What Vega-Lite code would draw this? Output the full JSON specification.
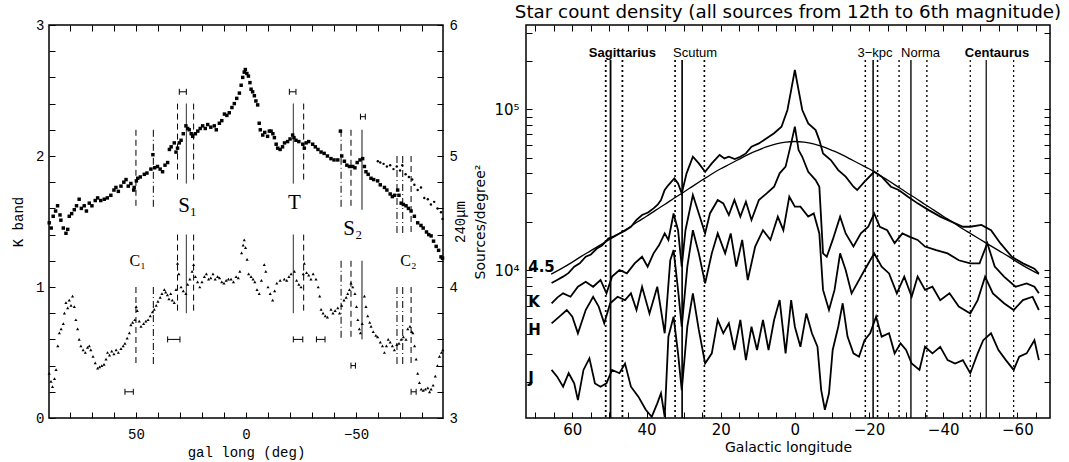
{
"$schema": "https://vega.github.io/schema/vega-lite/v6.json",
"background": "white",
"padding": {"left": 10, "top": 2, "right": 0, "bottom": 0},
"bounds": "flush",
"spacing": 83,
"resolve": {"scale": {"strokeDash": "independent", "strokeWidth": "independent"}},
"config": {
  "view": {"stroke": "black", "strokeWidth": 1.5},
  "axis": {"domain": false, "grid": false, "zindex": 1, "tickColor": "black", "tickWidth": 1, "tickSize": 6, "offset": -6, "labelColor": "black", "titleColor": "black", "titleFontWeight": "normal", "labelFontWeight": "normal", "labelFlush": false, "labelBound": false}
},
"datasets": {
  "kband": [
    {"l":89.4,"v":1.49},{"l":88.5,"v":1.45},{"l":87.6,"v":1.54},{"l":86.5,"v":1.58},{"l":85.6,"v":1.62},{"l":84.5,"v":1.55},{"l":84.1,"v":1.51},{"l":83,"v":1.45},{"l":81.8,"v":1.41},{"l":81,"v":1.44},{"l":80.3,"v":1.54},{"l":79.2,"v":1.56},{"l":78,"v":1.59},{"l":77,"v":1.62},{"l":75.8,"v":1.67},{"l":74.8,"v":1.6},{"l":73.5,"v":1.62},{"l":72.5,"v":1.58},{"l":71.2,"v":1.64},{"l":70,"v":1.62},{"l":68.5,"v":1.66},{"l":67.4,"v":1.68},{"l":66,"v":1.66},{"l":64.4,"v":1.67},{"l":63,"v":1.68},{"l":61.4,"v":1.7},{"l":60,"v":1.74},{"l":59.1,"v":1.76},{"l":58,"v":1.73},{"l":56.8,"v":1.77},{"l":55.5,"v":1.8},{"l":54.5,"v":1.82},{"l":53.5,"v":1.77},{"l":52.3,"v":1.79},{"l":51,"v":1.74},{"l":50.8,"v":1.76},{"l":49.8,"v":1.81},{"l":49.2,"v":1.83},{"l":48,"v":1.84},{"l":46.2,"v":1.86},{"l":45,"v":1.87},{"l":43.2,"v":1.9},{"l":42.3,"v":2.01},{"l":41.5,"v":1.91},{"l":40.2,"v":1.92},{"l":39,"v":1.9},{"l":37.9,"v":1.88},{"l":36.8,"v":1.93},{"l":35.6,"v":1.95},{"l":34.8,"v":2.05},{"l":34,"v":2.07},{"l":32.6,"v":2.1},{"l":31.8,"v":2.03},{"l":31.1,"v":2.06},{"l":30.3,"v":2.1},{"l":29.5,"v":2.12},{"l":28.5,"v":2.17},{"l":27.3,"v":2.23},{"l":26.5,"v":2.21},{"l":25.8,"v":2.2},{"l":24.9,"v":2.17},{"l":24.2,"v":2.15},{"l":23,"v":2.17},{"l":21.9,"v":2.19},{"l":20.8,"v":2.21},{"l":19.7,"v":2.23},{"l":18.5,"v":2.21},{"l":17.4,"v":2.24},{"l":16,"v":2.22},{"l":14.4,"v":2.23},{"l":13.5,"v":2.2},{"l":12.1,"v":2.25},{"l":11,"v":2.27},{"l":9.8,"v":2.32},{"l":8.7,"v":2.31},{"l":7.6,"v":2.33},{"l":6.4,"v":2.37},{"l":5.3,"v":2.4},{"l":4.2,"v":2.44},{"l":3,"v":2.48},{"l":2.2,"v":2.54},{"l":1.5,"v":2.6},{"l":0.8,"v":2.64},{"l":0.3,"v":2.66},{"l":-0.4,"v":2.63},{"l":-1.1,"v":2.61},{"l":-1.8,"v":2.56},{"l":-2.3,"v":2.51},{"l":-3,"v":2.49},{"l":-3.8,"v":2.46},{"l":-4.5,"v":2.42},{"l":-5.3,"v":2.39},{"l":-6,"v":2.25},{"l":-6.5,"v":2.2},{"l":-7.6,"v":2.16},{"l":-8.5,"v":2.18},{"l":-9.8,"v":2.15},{"l":-10.6,"v":2.19},{"l":-11.4,"v":2.19},{"l":-12.2,"v":2.17},{"l":-12.9,"v":2.14},{"l":-13.7,"v":2.09},{"l":-14.4,"v":2.06},{"l":-15.5,"v":2.05},{"l":-16.6,"v":2.07},{"l":-17.5,"v":2.1},{"l":-18.9,"v":2.11},{"l":-20,"v":2.13},{"l":-21.2,"v":2.16},{"l":-21.8,"v":2.14},{"l":-22.7,"v":2.12},{"l":-24,"v":2.11},{"l":-25.8,"v":2.09},{"l":-26.5,"v":2.06},{"l":-27.3,"v":2.1},{"l":-28.5,"v":2.11},{"l":-30.3,"v":2.09},{"l":-31.5,"v":2.07},{"l":-32.7,"v":2.05},{"l":-34.1,"v":2.03},{"l":-35.5,"v":2.02},{"l":-37,"v":2},{"l":-38.6,"v":1.98},{"l":-40,"v":1.97},{"l":-41.7,"v":1.97},{"l":-42.9,"v":2.19},{"l":-43.5,"v":2},{"l":-44.7,"v":1.96},{"l":-45.8,"v":1.93},{"l":-47,"v":1.92},{"l":-48.5,"v":1.92},{"l":-49.5,"v":1.91},{"l":-50.5,"v":1.95},{"l":-51.8,"v":1.97},{"l":-53,"v":1.98},{"l":-53.8,"v":1.92},{"l":-54.5,"v":1.88},{"l":-55.5,"v":1.86},{"l":-56.8,"v":1.83},{"l":-58,"v":1.82},{"l":-59.8,"v":1.81},{"l":-61,"v":1.78},{"l":-62.9,"v":1.76},{"l":-64,"v":1.74},{"l":-65.5,"v":1.71},{"l":-66.5,"v":1.69},{"l":-67.5,"v":1.7},{"l":-68.9,"v":1.74},{"l":-69.5,"v":1.7},{"l":-70.5,"v":1.64},{"l":-71.5,"v":1.63},{"l":-72.7,"v":1.62},{"l":-73.8,"v":1.6},{"l":-75,"v":1.58},{"l":-76.5,"v":1.54},{"l":-78,"v":1.49},{"l":-79.5,"v":1.47},{"l":-80.5,"v":1.45},{"l":-82,"v":1.42},{"l":-83,"v":1.4},{"l":-84.1,"v":1.39},{"l":-85.2,"v":1.35},{"l":-86.4,"v":1.31},{"l":-87.5,"v":1.28},{"l":-88.6,"v":1.23},{"l":-89.3,"v":1.22}
  ],
  "kband2": [
    {"l":-59.9,"v":1.96},{"l":-61,"v":1.95},{"l":-62.5,"v":1.94},{"l":-64,"v":1.92},{"l":-65.5,"v":1.93},{"l":-67,"v":1.9},{"l":-68.5,"v":1.92},{"l":-70,"v":1.89},{"l":-71,"v":1.93},{"l":-72.5,"v":1.86},{"l":-74,"v":1.84},{"l":-75.5,"v":1.82},{"l":-76.5,"v":1.78},{"l":-78,"v":1.74},{"l":-79.5,"v":1.76},{"l":-81,"v":1.68},{"l":-82.6,"v":1.67},{"l":-84,"v":1.63},{"l":-85.5,"v":1.65},{"l":-87,"v":1.6},{"l":-88.6,"v":1.57},{"l":-89.3,"v":1.52}
  ],
  "fir": [
    {"l":89.4,"v":3.34},{"l":88.6,"v":3.28},{"l":87.9,"v":3.24},{"l":87,"v":3.3},{"l":86.3,"v":3.37},{"l":85.5,"v":3.55},{"l":84.8,"v":3.65},{"l":84,"v":3.68},{"l":83,"v":3.72},{"l":82.5,"v":3.8},{"l":81.8,"v":3.88},{"l":81,"v":3.84},{"l":80.3,"v":3.9},{"l":79.5,"v":3.86},{"l":78.8,"v":3.93},{"l":78,"v":3.85},{"l":77.3,"v":3.75},{"l":76.5,"v":3.68},{"l":75.8,"v":3.6},{"l":75,"v":3.55},{"l":74,"v":3.52},{"l":73,"v":3.5},{"l":72,"v":3.54},{"l":71.2,"v":3.55},{"l":70.5,"v":3.52},{"l":69.5,"v":3.47},{"l":68.5,"v":3.42},{"l":67.4,"v":3.38},{"l":66.5,"v":3.39},{"l":65.5,"v":3.4},{"l":64.5,"v":3.41},{"l":63.6,"v":3.45},{"l":62.9,"v":3.5},{"l":62,"v":3.48},{"l":61,"v":3.51},{"l":60,"v":3.49},{"l":59,"v":3.52},{"l":58,"v":3.5},{"l":56.8,"v":3.53},{"l":55.8,"v":3.55},{"l":55,"v":3.57},{"l":54,"v":3.61},{"l":53,"v":3.65},{"l":52.3,"v":3.71},{"l":51.5,"v":3.73},{"l":50.5,"v":3.75},{"l":49.9,"v":3.85},{"l":49.4,"v":3.82},{"l":48.5,"v":3.74},{"l":47.7,"v":3.7},{"l":46.5,"v":3.72},{"l":45.5,"v":3.74},{"l":44.5,"v":3.75},{"l":43.5,"v":3.78},{"l":42.5,"v":3.81},{"l":41.7,"v":3.83},{"l":40.8,"v":3.86},{"l":40,"v":3.89},{"l":39,"v":3.92},{"l":38.2,"v":3.95},{"l":37.1,"v":3.98},{"l":36.5,"v":3.96},{"l":35.7,"v":3.94},{"l":35,"v":3.91},{"l":34.2,"v":3.95},{"l":33.5,"v":3.9},{"l":32.6,"v":3.88},{"l":31.8,"v":3.98},{"l":31.1,"v":4.18},{"l":30.5,"v":4.1},{"l":29.5,"v":4},{"l":28.5,"v":3.97},{"l":27.3,"v":3.95},{"l":26.5,"v":4.02},{"l":25.5,"v":4.06},{"l":24.5,"v":4.12},{"l":23.8,"v":4.17},{"l":23,"v":4.08},{"l":22,"v":4.04},{"l":21,"v":4},{"l":20,"v":4.04},{"l":18.9,"v":4.08},{"l":18,"v":4.1},{"l":17,"v":4.06},{"l":16,"v":4.07},{"l":15,"v":4.1},{"l":14,"v":4.06},{"l":12.9,"v":4.08},{"l":12,"v":4.07},{"l":11,"v":4.04},{"l":10,"v":4.03},{"l":9,"v":4.05},{"l":8,"v":4.06},{"l":6.8,"v":4.06},{"l":5.7,"v":4.04},{"l":4.5,"v":4.08},{"l":3.5,"v":4.07},{"l":2.8,"v":4.12},{"l":2,"v":4.26},{"l":1.3,"v":4.32},{"l":0.8,"v":4.36},{"l":0.2,"v":4.3},{"l":-0.5,"v":4.21},{"l":-1.2,"v":4.1},{"l":-2.3,"v":4.08},{"l":-3.2,"v":4.06},{"l":-4,"v":4.04},{"l":-5,"v":3.98},{"l":-6,"v":3.95},{"l":-7,"v":4.05},{"l":-8.3,"v":4.17},{"l":-9,"v":4.12},{"l":-10,"v":4},{"l":-11,"v":3.95},{"l":-12.1,"v":3.9},{"l":-13,"v":3.97},{"l":-14,"v":4.03},{"l":-15.5,"v":4.05},{"l":-17.4,"v":4.06},{"l":-18.5,"v":4.05},{"l":-19.5,"v":4.08},{"l":-20.5,"v":4.1},{"l":-22,"v":4.12},{"l":-23,"v":4.05},{"l":-24,"v":4.02},{"l":-25,"v":4},{"l":-26,"v":4.1},{"l":-26.5,"v":4.18},{"l":-27.5,"v":4.11},{"l":-28.5,"v":4.09},{"l":-29.5,"v":4.06},{"l":-30.5,"v":4.1},{"l":-31.8,"v":4.06},{"l":-32.8,"v":4},{"l":-33.5,"v":3.93},{"l":-34.1,"v":3.83},{"l":-35,"v":3.8},{"l":-36,"v":3.78},{"l":-37,"v":3.77},{"l":-38.6,"v":3.83},{"l":-39.5,"v":3.8},{"l":-40.5,"v":3.82},{"l":-41.7,"v":3.84},{"l":-42.5,"v":3.8},{"l":-43.5,"v":3.86},{"l":-44.5,"v":3.9},{"l":-45.5,"v":3.92},{"l":-46.2,"v":3.95},{"l":-47,"v":3.98},{"l":-47.7,"v":4.03},{"l":-48.5,"v":4},{"l":-49.5,"v":3.95},{"l":-50.2,"v":3.85},{"l":-50.8,"v":3.75},{"l":-51.5,"v":3.68},{"l":-52,"v":3.65},{"l":-52.8,"v":3.72},{"l":-53.8,"v":3.93},{"l":-54.5,"v":3.85},{"l":-55.3,"v":3.78},{"l":-56.2,"v":3.73},{"l":-56.8,"v":3.7},{"l":-57.8,"v":3.66},{"l":-59,"v":3.63},{"l":-59.8,"v":3.62},{"l":-61,"v":3.58},{"l":-62,"v":3.55},{"l":-62.9,"v":3.5},{"l":-63.8,"v":3.55},{"l":-64.6,"v":3.6},{"l":-65.5,"v":3.58},{"l":-66.5,"v":3.55},{"l":-67.4,"v":3.52},{"l":-68.5,"v":3.56},{"l":-69.5,"v":3.57},{"l":-70.5,"v":3.6},{"l":-71.5,"v":3.62},{"l":-72.7,"v":3.6},{"l":-73.5,"v":3.68},{"l":-74.5,"v":3.7},{"l":-75.3,"v":3.66},{"l":-75.8,"v":3.65},{"l":-76.6,"v":3.55},{"l":-77.3,"v":3.45},{"l":-78,"v":3.34},{"l":-78.8,"v":3.27},{"l":-79.6,"v":3.22},{"l":-80.5,"v":3.21},{"l":-81.5,"v":3.22},{"l":-82.6,"v":3.23},{"l":-83.4,"v":3.2},{"l":-84.1,"v":3.22},{"l":-85,"v":3.25},{"l":-86,"v":3.32},{"l":-87,"v":3.4},{"l":-87.9,"v":3.47},{"l":-88.8,"v":3.5},{"l":-89.4,"v":3.52}
  ],
  "lvlines": [
    {"l":50,"kind":"dash","top":2.2,"bot":1.59},{"l":42.1,"kind":"dashdot","top":2.2,"bot":1.59},
    {"l":31.1,"kind":"dash","top":2.4,"bot":1.79},{"l":27.1,"kind":"solid","top":2.4,"bot":1.79},{"l":23.8,"kind":"dash","top":2.4,"bot":1.79},
    {"l":-21.5,"kind":"solid","top":2.4,"bot":1.79},{"l":-26.2,"kind":"dash","top":2.4,"bot":1.79},
    {"l":-43.2,"kind":"dashdot","top":2.2,"bot":1.59},{"l":-47.7,"kind":"dash","top":2.2,"bot":1.59},{"l":-52.7,"kind":"solid","top":2.2,"bot":1.59},
    {"l":-68.6,"kind":"dashdot","top":2.0,"bot":1.39},{"l":-71.2,"kind":"dashdot","top":2.0,"bot":1.39},{"l":-75,"kind":"dash","top":2.0,"bot":1.39},
    {"l":50,"kind":"dash","top":1.0,"bot":0.39},{"l":42.1,"kind":"dashdot","top":1.0,"bot":0.39},
    {"l":31.1,"kind":"dash","top":1.4,"bot":0.8},{"l":27.1,"kind":"solid","top":1.4,"bot":0.8},{"l":23.8,"kind":"dash","top":1.4,"bot":0.8},
    {"l":-21.5,"kind":"solid","top":1.4,"bot":0.8},{"l":-26.2,"kind":"dash","top":1.4,"bot":0.8},
    {"l":-43.2,"kind":"dashdot","top":1.2,"bot":0.6},{"l":-47.7,"kind":"dash","top":1.2,"bot":0.6},{"l":-52.7,"kind":"solid","top":1.2,"bot":0.6},
    {"l":-68.6,"kind":"dashdot","top":1.0,"bot":0.39},{"l":-71.2,"kind":"dashdot","top":1.0,"bot":0.39},{"l":-75,"kind":"dash","top":1.0,"bot":0.39}
  ],
  "lbars": [
    {"lo":30.3,"hi":27.1,"v":2.49},{"lo":-19.7,"hi":-22.7,"v":2.49},{"lo":-52.0,"hi":-54.2,"v":2.3},
    {"lo":55.0,"hi":51.2,"v":0.2},{"lo":35.6,"hi":30.0,"v":0.6},{"lo":-21.5,"hi":-25.8,"v":0.6},
    {"lo":-32.0,"hi":-35.9,"v":0.6},{"lo":-47.7,"hi":-49.7,"v":0.4},{"lo":-75.0,"hi":-77.3,"v":0.2}
  ],
  "lbig": [
    {"l":26.5,"v":1.62,"t":"S₁"},{"l":-22,"v":1.64,"t":"T"},{"l":-48.5,"v":1.44,"t":"S₂"}
  ],
  "lsmall": [
    {"l":49.2,"v":1.2,"t":"C₁"},{"l":-73.8,"v":1.2,"t":"C₂"}
  ],
  "stars": [
    {"b":"4.5","l":65.6,"n":8300},{"b":"4.5","l":64,"n":8700},{"b":"4.5","l":62.5,"n":9100},{"b":"4.5","l":61,"n":9600},{"b":"4.5","l":59.5,"n":10500},{"b":"4.5","l":58,"n":11000},{"b":"4.5","l":56.4,"n":12100},{"b":"4.5","l":55,"n":12500},{"b":"4.5","l":53.4,"n":13600},{"b":"4.5","l":52,"n":14200},{"b":"4.5","l":50.3,"n":15700},{"b":"4.5","l":48.8,"n":16200},{"b":"4.5","l":47.3,"n":16900},{"b":"4.5","l":45.8,"n":17600},{"b":"4.5","l":44.2,"n":18600},{"b":"4.5","l":42.7,"n":20500},{"b":"4.5","l":41.2,"n":22000},{"b":"4.5","l":39.6,"n":22800},{"b":"4.5","l":38.1,"n":24200},{"b":"4.5","l":37,"n":25500},{"b":"4.5","l":36.1,"n":27300},{"b":"4.5","l":35.1,"n":31500},{"b":"4.5","l":34.1,"n":33800},{"b":"4.5","l":32.5,"n":37200},{"b":"4.5","l":31.5,"n":34600},{"b":"4.5","l":30.5,"n":30000},{"b":"4.5","l":29.2,"n":40000},{"b":"4.5","l":27.5,"n":50700},{"b":"4.5","l":25.9,"n":46100},{"b":"4.5","l":24.2,"n":40900},{"b":"4.5","l":22.4,"n":46100},{"b":"4.5","l":20.3,"n":52000},{"b":"4.5","l":19,"n":49500},{"b":"4.5","l":17.8,"n":50700},{"b":"4.5","l":16.2,"n":49000},{"b":"4.5","l":14.7,"n":50700},{"b":"4.5","l":13.2,"n":53200},{"b":"4.5","l":11.7,"n":58600},{"b":"4.5","l":9.7,"n":61400},{"b":"4.5","l":7.6,"n":66100},{"b":"4.5","l":5.6,"n":71000},{"b":"4.5","l":3.6,"n":78000},{"b":"4.5","l":2,"n":99100},{"b":"4.5","l":1,"n":131800},{"b":"4.5","l":0,"n":175800},{"b":"4.5","l":-1,"n":131800},{"b":"4.5","l":-2,"n":99100},{"b":"4.5","l":-3.6,"n":81800},{"b":"4.5","l":-5.6,"n":74300},{"b":"4.5","l":-6.6,"n":64400},{"b":"4.5","l":-7.6,"n":53200},{"b":"4.5","l":-9.7,"n":48400},{"b":"4.5","l":-11.7,"n":41900},{"b":"4.5","l":-13.7,"n":38100},{"b":"4.5","l":-15.8,"n":33000},{"b":"4.5","l":-16.8,"n":31500},{"b":"4.5","l":-18.8,"n":35500},{"b":"4.5","l":-21.4,"n":40900},{"b":"4.5","l":-23.4,"n":38100},{"b":"4.5","l":-25.9,"n":33000},{"b":"4.5","l":-28,"n":31500},{"b":"4.5","l":-30.5,"n":28600},{"b":"4.5","l":-33.1,"n":26000},{"b":"4.5","l":-36.1,"n":23600},{"b":"4.5","l":-39.2,"n":21500},{"b":"4.5","l":-42.2,"n":20000},{"b":"4.5","l":-45.3,"n":18600},{"b":"4.5","l":-47.3,"n":18600},{"b":"4.5","l":-50.3,"n":19100},{"b":"4.5","l":-52.9,"n":17700},{"b":"4.5","l":-55.4,"n":14700},{"b":"4.5","l":-58.5,"n":12100},{"b":"4.5","l":-61.5,"n":11000},{"b":"4.5","l":-64.6,"n":10200},{"b":"4.5","l":-65.8,"n":9500},
    {"b":"K","l":65.6,"n":6210},{"b":"K","l":64,"n":6760},{"b":"K","l":62.5,"n":7160},{"b":"K","l":60.5,"n":6820},{"b":"K","l":58.5,"n":7870},{"b":"K","l":56.4,"n":8450},{"b":"K","l":54.4,"n":7870},{"b":"K","l":52.4,"n":8670},{"b":"K","l":50.8,"n":7160},{"b":"K","l":49.3,"n":9100},{"b":"K","l":47.3,"n":10000},{"b":"K","l":45.3,"n":9530},{"b":"K","l":43.2,"n":11000},{"b":"K","l":41.2,"n":12100},{"b":"K","l":39.7,"n":10500},{"b":"K","l":38.1,"n":12700},{"b":"K","l":36.6,"n":14300},{"b":"K","l":35.1,"n":16900},{"b":"K","l":34.1,"n":15400},{"b":"K","l":32.7,"n":22500},{"b":"K","l":31.5,"n":17700},{"b":"K","l":30.5,"n":10500},{"b":"K","l":29.5,"n":17700},{"b":"K","l":27.5,"n":29300},{"b":"K","l":25.9,"n":22500},{"b":"K","l":24.2,"n":16900},{"b":"K","l":22.9,"n":22500},{"b":"K","l":20.8,"n":27300},{"b":"K","l":19.3,"n":26000},{"b":"K","l":17.8,"n":22000},{"b":"K","l":16.3,"n":27300},{"b":"K","l":14.7,"n":21500},{"b":"K","l":13.2,"n":26600},{"b":"K","l":11.7,"n":20500},{"b":"K","l":9.7,"n":27300},{"b":"K","l":7.6,"n":30000},{"b":"K","l":5.6,"n":33000},{"b":"K","l":4.1,"n":40000},{"b":"K","l":2.5,"n":44000},{"b":"K","l":1,"n":61400},{"b":"K","l":0,"n":78000},{"b":"K","l":-1,"n":55800},{"b":"K","l":-2,"n":50700},{"b":"K","l":-3.6,"n":40900},{"b":"K","l":-5.6,"n":36300},{"b":"K","l":-6.6,"n":33000},{"b":"K","l":-7.6,"n":12700},{"b":"K","l":-8.6,"n":12100},{"b":"K","l":-10.2,"n":15400},{"b":"K","l":-12.2,"n":21500},{"b":"K","l":-13.7,"n":16900},{"b":"K","l":-15.8,"n":14000},{"b":"K","l":-17.8,"n":16900},{"b":"K","l":-19.8,"n":18600},{"b":"K","l":-21.4,"n":22500},{"b":"K","l":-22.9,"n":18600},{"b":"K","l":-24.9,"n":17700},{"b":"K","l":-26.9,"n":14700},{"b":"K","l":-29,"n":16900},{"b":"K","l":-31,"n":16100},{"b":"K","l":-33.1,"n":15400},{"b":"K","l":-35.1,"n":14000},{"b":"K","l":-38.1,"n":13300},{"b":"K","l":-41.2,"n":12700},{"b":"K","l":-44.2,"n":11500},{"b":"K","l":-47.3,"n":11000},{"b":"K","l":-49.8,"n":11000},{"b":"K","l":-51.9,"n":14700},{"b":"K","l":-53.9,"n":10500},{"b":"K","l":-56.4,"n":9100},{"b":"K","l":-59.5,"n":7870},{"b":"K","l":-62.5,"n":8260},{"b":"K","l":-64.6,"n":7870},{"b":"K","l":-65.8,"n":7160},
    {"b":"H","l":65.6,"n":4660},{"b":"H","l":63.5,"n":5130},{"b":"H","l":61.5,"n":5640},{"b":"H","l":60,"n":5130},{"b":"H","l":58.5,"n":4040},{"b":"H","l":56.4,"n":5640},{"b":"H","l":54.4,"n":6820},{"b":"H","l":52.9,"n":5920},{"b":"H","l":51.4,"n":4660},{"b":"H","l":49.8,"n":6210},{"b":"H","l":47.8,"n":6820},{"b":"H","l":45.8,"n":6500},{"b":"H","l":44.2,"n":7160},{"b":"H","l":42.7,"n":5640},{"b":"H","l":41.2,"n":7870},{"b":"H","l":39.2,"n":5370},{"b":"H","l":37.1,"n":7870},{"b":"H","l":35.1,"n":4040},{"b":"H","l":33.6,"n":11500},{"b":"H","l":32.7,"n":13300},{"b":"H","l":31.5,"n":7520},{"b":"H","l":30.5,"n":4440},{"b":"H","l":29,"n":10500},{"b":"H","l":27.5,"n":17700},{"b":"H","l":25.9,"n":12700},{"b":"H","l":24.2,"n":8260},{"b":"H","l":22.4,"n":12700},{"b":"H","l":20.8,"n":16900},{"b":"H","l":18.8,"n":12700},{"b":"H","l":17.3,"n":16900},{"b":"H","l":15.8,"n":10500},{"b":"H","l":14.2,"n":15400},{"b":"H","l":12.7,"n":8670},{"b":"H","l":10.7,"n":14000},{"b":"H","l":8.6,"n":17700},{"b":"H","l":6.6,"n":15400},{"b":"H","l":4.6,"n":21500},{"b":"H","l":3.1,"n":17700},{"b":"H","l":1.5,"n":28600},{"b":"H","l":0,"n":24800},{"b":"H","l":-1.5,"n":24800},{"b":"H","l":-3.6,"n":21500},{"b":"H","l":-5.1,"n":22500},{"b":"H","l":-6.6,"n":16900},{"b":"H","l":-7.6,"n":7520},{"b":"H","l":-9.2,"n":5640},{"b":"H","l":-10.7,"n":7520},{"b":"H","l":-12.2,"n":12700},{"b":"H","l":-13.7,"n":10000},{"b":"H","l":-15.3,"n":7160},{"b":"H","l":-16.8,"n":8260},{"b":"H","l":-18.8,"n":10000},{"b":"H","l":-21.4,"n":12700},{"b":"H","l":-23.4,"n":10500},{"b":"H","l":-25.4,"n":9530},{"b":"H","l":-27.5,"n":7160},{"b":"H","l":-29.5,"n":9100},{"b":"H","l":-31.5,"n":6820},{"b":"H","l":-33.1,"n":9100},{"b":"H","l":-35.1,"n":7520},{"b":"H","l":-37.1,"n":7870},{"b":"H","l":-39.2,"n":6500},{"b":"H","l":-41.7,"n":7160},{"b":"H","l":-44.2,"n":5920},{"b":"H","l":-47.3,"n":5370},{"b":"H","l":-49.3,"n":6500},{"b":"H","l":-51.3,"n":9100},{"b":"H","l":-53.4,"n":7160},{"b":"H","l":-56.4,"n":6210},{"b":"H","l":-59,"n":5640},{"b":"H","l":-61.5,"n":6500},{"b":"H","l":-64.1,"n":6820},{"b":"H","l":-65.8,"n":5640},
    {"b":"J","l":65.6,"n":2390},{"b":"J","l":64.1,"n":2170},{"b":"J","l":62.5,"n":1880},{"b":"J","l":61,"n":2280},{"b":"J","l":59.5,"n":1970},{"b":"J","l":58.5,"n":1550},{"b":"J","l":57,"n":2390},{"b":"J","l":55.4,"n":2820},{"b":"J","l":53.9,"n":1970},{"b":"J","l":52.4,"n":1880},{"b":"J","l":50.8,"n":1970},{"b":"J","l":49.3,"n":2390},{"b":"J","l":47.3,"n":2280},{"b":"J","l":45.8,"n":2620},{"b":"J","l":44.2,"n":1880},{"b":"J","l":42.2,"n":1630},{"b":"J","l":40.2,"n":1350},{"b":"J","l":38.6,"n":1220},{"b":"J","l":37.1,"n":1480},{"b":"J","l":36.1,"n":1710},{"b":"J","l":35.1,"n":1220},{"b":"J","l":34.1,"n":3850},{"b":"J","l":32.7,"n":5130},{"b":"J","l":31.5,"n":3030},{"b":"J","l":30.5,"n":1790},{"b":"J","l":29,"n":4440},{"b":"J","l":27.5,"n":7160},{"b":"J","l":25.9,"n":4240},{"b":"J","l":24.2,"n":2620},{"b":"J","l":22.4,"n":3030},{"b":"J","l":20.8,"n":4890},{"b":"J","l":19.3,"n":4040},{"b":"J","l":17.8,"n":4660},{"b":"J","l":16.3,"n":3180},{"b":"J","l":14.7,"n":4890},{"b":"J","l":13.2,"n":2750},{"b":"J","l":11.7,"n":4440},{"b":"J","l":10.2,"n":3180},{"b":"J","l":8.6,"n":4890},{"b":"J","l":7.1,"n":3180},{"b":"J","l":5.6,"n":4890},{"b":"J","l":4.1,"n":6500},{"b":"J","l":2.5,"n":3030},{"b":"J","l":1,"n":6500},{"b":"J","l":0,"n":4440},{"b":"J","l":-1.5,"n":3330},{"b":"J","l":-3.1,"n":5370},{"b":"J","l":-4.6,"n":4040},{"b":"J","l":-6.1,"n":3330},{"b":"J","l":-7.1,"n":1790},{"b":"J","l":-8.1,"n":1350},{"b":"J","l":-9.2,"n":1710},{"b":"J","l":-10.2,"n":3180},{"b":"J","l":-11.7,"n":4440},{"b":"J","l":-12.9,"n":6210},{"b":"J","l":-14.2,"n":3850},{"b":"J","l":-15.8,"n":3030},{"b":"J","l":-17.3,"n":2890},{"b":"J","l":-18.8,"n":3660},{"b":"J","l":-20.3,"n":4040},{"b":"J","l":-21.9,"n":5130},{"b":"J","l":-23.4,"n":3850},{"b":"J","l":-25.4,"n":4040},{"b":"J","l":-26.9,"n":3030},{"b":"J","l":-28.5,"n":3500},{"b":"J","l":-30,"n":3180},{"b":"J","l":-31.5,"n":2620},{"b":"J","l":-33.6,"n":2390},{"b":"J","l":-35.1,"n":3330},{"b":"J","l":-37.1,"n":3030},{"b":"J","l":-39.2,"n":3330},{"b":"J","l":-41.2,"n":2750},{"b":"J","l":-43.2,"n":2620},{"b":"J","l":-45.3,"n":2750},{"b":"J","l":-47.3,"n":2280},{"b":"J","l":-49.3,"n":3030},{"b":"J","l":-50.8,"n":3660},{"b":"J","l":-52.9,"n":4040},{"b":"J","l":-54.9,"n":3180},{"b":"J","l":-56.9,"n":2750},{"b":"J","l":-59,"n":2390},{"b":"J","l":-60.5,"n":2890},{"b":"J","l":-62.5,"n":3030},{"b":"J","l":-64.6,"n":3660},{"b":"J","l":-65.8,"n":2750}
  ],
  "model": [
    {"l":65.7,"n":9440},{"l":62.5,"n":10350},{"l":60,"n":11200},{"l":57.5,"n":12200},{"l":55,"n":13200},{"l":52.5,"n":14300},{"l":50,"n":15500},{"l":47.5,"n":16800},{"l":45,"n":18200},{"l":42.5,"n":19900},{"l":40,"n":21600},{"l":37.5,"n":23600},{"l":35,"n":25700},{"l":32.5,"n":28100},{"l":30,"n":30500},{"l":27.5,"n":33300},{"l":25,"n":36300},{"l":22.5,"n":39500},{"l":20,"n":42700},{"l":17.5,"n":45700},{"l":15,"n":49000},{"l":12.5,"n":52500},{"l":10,"n":55600},{"l":7.5,"n":58600},{"l":5,"n":61000},{"l":2.5,"n":62500},{"l":0,"n":63100},{"l":-2.5,"n":62500},{"l":-5,"n":61000},{"l":-7.5,"n":58600},{"l":-10,"n":55600},{"l":-12.5,"n":52500},{"l":-15,"n":49000},{"l":-17.5,"n":45700},{"l":-20,"n":42700},{"l":-22.5,"n":39500},{"l":-25,"n":36300},{"l":-27.5,"n":33300},{"l":-30,"n":30500},{"l":-32.5,"n":28100},{"l":-35,"n":25700},{"l":-37.5,"n":23600},{"l":-40,"n":21600},{"l":-42.5,"n":19900},{"l":-45,"n":18200},{"l":-47.5,"n":16800},{"l":-50,"n":15500},{"l":-52.5,"n":14300},{"l":-55,"n":13200},{"l":-57.5,"n":12200},{"l":-60,"n":11200},{"l":-62.5,"n":10350},{"l":-65.8,"n":9440}
  ],
  "rvlines": [
    {"l":51.0,"kind":"dotted","arm":"Sagittarius"},{"l":49.7,"kind":"solid","arm":"Sagittarius"},{"l":46.5,"kind":"dotted","arm":"Sagittarius"},
    {"l":32.3,"kind":"dotted","arm":"Scutum"},{"l":30.4,"kind":"solid","arm":"Scutum"},{"l":24.4,"kind":"dotted","arm":"Scutum"},
    {"l":-19.0,"kind":"dotted","arm":"3-kpc"},{"l":-21.1,"kind":"solid","arm":"3-kpc"},{"l":-22.3,"kind":"dotted","arm":"3-kpc"},
    {"l":-28.1,"kind":"dotted","arm":"Norma"},{"l":-31.3,"kind":"solid","arm":"Norma"},{"l":-35.6,"kind":"dotted","arm":"Norma"},
    {"l":-47.3,"kind":"dotted","arm":"Centaurus"},{"l":-51.6,"kind":"solid","arm":"Centaurus"},{"l":-59.0,"kind":"dotted","arm":"Centaurus"}
  ],
  "armlabels": [
    {"l":46.5,"t":"Sagittarius","major":true},{"l":26.9,"t":"Scutum","major":false},{"l":-21.6,"t":"3−kpc","major":false},{"l":-33.9,"t":"Norma","major":false},{"l":-54.5,"t":"Centaurus","major":true}
  ],
  "bandlabels": [
    {"l":71.9,"n":10400,"t":"4.5"},{"l":71.9,"n":6330,"t":"K"},{"l":71.9,"n":4240,"t":"H"},{"l":71.9,"n":2130,"t":"J"}
  ]
},
"hconcat": [
  {
    "width": 394,
    "height": 393,
    "layer": [
      {
        "layer": [
          {
            "data": {"name": "kband"},
            "mark": {"type": "square", "size": 12, "color": "black", "opacity": 1},
            "encoding": {
              "x": {"field": "l", "type": "quantitative", "scale": {"domain": [89.5, -89.5], "nice": false, "zero": false},
                    "axis": {"orient": "bottom", "title": "gal long (deg)", "values": [80,70,60,50,40,30,20,10,0,-10,-20,-30,-40,-50,-60,-70,-80], "labelExpr": "datum.value % 50 === 0 ? datum.label : ''", "labelFont": "Liberation Mono", "labelFontSize": 14, "labelPadding": 9, "labelOverlap": false, "titleFont": "Liberation Mono", "titleFontSize": 14, "titlePadding": 4, "titleColor": "black"}},
              "y": {"field": "v", "type": "quantitative", "scale": {"domain": [0, 3], "nice": false, "zero": false},
                    "axis": {"orient": "left", "title": "K band", "values": [0,0.2,0.4,0.6,0.8,1,1.2,1.4,1.6,1.8,2,2.2,2.4,2.6,2.8,3], "labelExpr": "abs(datum.value - round(datum.value)) < 0.001 ? format(datum.value, 'd') : ''", "labelFont": "Liberation Mono", "labelFontSize": 14, "labelPadding": 5, "labelOverlap": false, "titleFont": "Liberation Mono", "titleFontSize": 14, "titlePadding": 10, "titleColor": "black"}}
            }
          },
          {
            "data": {"name": "kband2"},
            "mark": {"type": "circle", "size": 6, "color": "black", "opacity": 1},
            "encoding": {
              "x": {"field": "l", "type": "quantitative", "scale": {"domain": [89.5, -89.5], "nice": false, "zero": false},
                    "axis": {"orient": "bottom", "title": "gal long (deg)", "values": [80,70,60,50,40,30,20,10,0,-10,-20,-30,-40,-50,-60,-70,-80], "labelExpr": "datum.value % 50 === 0 ? datum.label : ''", "labelFont": "Liberation Mono", "labelFontSize": 14, "labelPadding": 9, "labelOverlap": false, "titleFont": "Liberation Mono", "titleFontSize": 14, "titlePadding": 4, "titleColor": "black"}},
              "y": {"field": "v", "type": "quantitative", "scale": {"domain": [0, 3], "nice": false, "zero": false},
                    "axis": {"orient": "left", "title": "K band", "values": [0,0.2,0.4,0.6,0.8,1,1.2,1.4,1.6,1.8,2,2.2,2.4,2.6,2.8,3], "labelExpr": "abs(datum.value - round(datum.value)) < 0.001 ? format(datum.value, 'd') : ''", "labelFont": "Liberation Mono", "labelFontSize": 14, "labelPadding": 5, "labelOverlap": false, "titleFont": "Liberation Mono", "titleFontSize": 14, "titlePadding": 10, "titleColor": "black"}}
            }
          },
          {
            "data": {"name": "lvlines"},
            "mark": {"type": "rule", "color": "black", "strokeWidth": 1},
            "encoding": {
              "x": {"field": "l", "type": "quantitative", "scale": {"domain": [89.5, -89.5], "nice": false, "zero": false},
                    "axis": {"orient": "bottom", "title": "gal long (deg)", "values": [80,70,60,50,40,30,20,10,0,-10,-20,-30,-40,-50,-60,-70,-80], "labelExpr": "datum.value % 50 === 0 ? datum.label : ''", "labelFont": "Liberation Mono", "labelFontSize": 14, "labelPadding": 9, "labelOverlap": false, "titleFont": "Liberation Mono", "titleFontSize": 14, "titlePadding": 4, "titleColor": "black"}},
              "y": {"field": "top", "type": "quantitative", "scale": {"domain": [0, 3], "nice": false, "zero": false},
                    "axis": {"orient": "left", "title": "K band", "values": [0,0.2,0.4,0.6,0.8,1,1.2,1.4,1.6,1.8,2,2.2,2.4,2.6,2.8,3], "labelExpr": "abs(datum.value - round(datum.value)) < 0.001 ? format(datum.value, 'd') : ''", "labelFont": "Liberation Mono", "labelFontSize": 14, "labelPadding": 5, "labelOverlap": false, "titleFont": "Liberation Mono", "titleFontSize": 14, "titlePadding": 10, "titleColor": "black"}},
              "y2": {"field": "bot"},
              "strokeDash": {"field": "kind", "type": "nominal", "scale": {"domain": ["solid", "dash", "dashdot", "dotted"], "range": [[1, 0], [6, 4], [7, 3, 1, 3], [2, 3]]}, "legend": null}
            }
          },
          {
            "data": {"name": "lbars"},
            "mark": {"type": "rule", "color": "black", "strokeWidth": 1},
            "encoding": {
              "x": {"field": "lo", "type": "quantitative", "scale": {"domain": [89.5, -89.5], "nice": false, "zero": false},
                    "axis": {"orient": "bottom", "title": "gal long (deg)", "values": [80,70,60,50,40,30,20,10,0,-10,-20,-30,-40,-50,-60,-70,-80], "labelExpr": "datum.value % 50 === 0 ? datum.label : ''", "labelFont": "Liberation Mono", "labelFontSize": 14, "labelPadding": 9, "labelOverlap": false, "titleFont": "Liberation Mono", "titleFontSize": 14, "titlePadding": 4, "titleColor": "black"}},
              "x2": {"field": "hi"},
              "y": {"field": "v", "type": "quantitative", "scale": {"domain": [0, 3], "nice": false, "zero": false},
                    "axis": {"orient": "left", "title": "K band", "values": [0,0.2,0.4,0.6,0.8,1,1.2,1.4,1.6,1.8,2,2.2,2.4,2.6,2.8,3], "labelExpr": "abs(datum.value - round(datum.value)) < 0.001 ? format(datum.value, 'd') : ''", "labelFont": "Liberation Mono", "labelFontSize": 14, "labelPadding": 5, "labelOverlap": false, "titleFont": "Liberation Mono", "titleFontSize": 14, "titlePadding": 10, "titleColor": "black"}}
            }
          },
          {
            "data": {"name": "lbars"},
            "mark": {"type": "point", "shape": "M0,-1L0,1", "size": 36, "filled": false, "color": "black", "strokeWidth": 1, "opacity": 1},
            "encoding": {
              "x": {"field": "lo", "type": "quantitative", "scale": {"domain": [89.5, -89.5], "nice": false, "zero": false},
                    "axis": {"orient": "bottom", "title": "gal long (deg)", "values": [80,70,60,50,40,30,20,10,0,-10,-20,-30,-40,-50,-60,-70,-80], "labelExpr": "datum.value % 50 === 0 ? datum.label : ''", "labelFont": "Liberation Mono", "labelFontSize": 14, "labelPadding": 9, "labelOverlap": false, "titleFont": "Liberation Mono", "titleFontSize": 14, "titlePadding": 4, "titleColor": "black"}},
              "y": {"field": "v", "type": "quantitative", "scale": {"domain": [0, 3], "nice": false, "zero": false},
                    "axis": {"orient": "left", "title": "K band", "values": [0,0.2,0.4,0.6,0.8,1,1.2,1.4,1.6,1.8,2,2.2,2.4,2.6,2.8,3], "labelExpr": "abs(datum.value - round(datum.value)) < 0.001 ? format(datum.value, 'd') : ''", "labelFont": "Liberation Mono", "labelFontSize": 14, "labelPadding": 5, "labelOverlap": false, "titleFont": "Liberation Mono", "titleFontSize": 14, "titlePadding": 10, "titleColor": "black"}}
            }
          },
          {
            "data": {"name": "lbars"},
            "mark": {"type": "point", "shape": "M0,-1L0,1", "size": 36, "filled": false, "color": "black", "strokeWidth": 1, "opacity": 1},
            "encoding": {
              "x": {"field": "hi", "type": "quantitative", "scale": {"domain": [89.5, -89.5], "nice": false, "zero": false},
                    "axis": {"orient": "bottom", "title": "gal long (deg)", "values": [80,70,60,50,40,30,20,10,0,-10,-20,-30,-40,-50,-60,-70,-80], "labelExpr": "datum.value % 50 === 0 ? datum.label : ''", "labelFont": "Liberation Mono", "labelFontSize": 14, "labelPadding": 9, "labelOverlap": false, "titleFont": "Liberation Mono", "titleFontSize": 14, "titlePadding": 4, "titleColor": "black"}},
              "y": {"field": "v", "type": "quantitative", "scale": {"domain": [0, 3], "nice": false, "zero": false},
                    "axis": {"orient": "left", "title": "K band", "values": [0,0.2,0.4,0.6,0.8,1,1.2,1.4,1.6,1.8,2,2.2,2.4,2.6,2.8,3], "labelExpr": "abs(datum.value - round(datum.value)) < 0.001 ? format(datum.value, 'd') : ''", "labelFont": "Liberation Mono", "labelFontSize": 14, "labelPadding": 5, "labelOverlap": false, "titleFont": "Liberation Mono", "titleFontSize": 14, "titlePadding": 10, "titleColor": "black"}}
            }
          },
          {
            "data": {"name": "lbig"},
            "mark": {"type": "text", "font": "Liberation Serif", "fontSize": 21, "color": "black", "align": "center", "baseline": "middle"},
            "encoding": {
              "x": {"field": "l", "type": "quantitative", "scale": {"domain": [89.5, -89.5], "nice": false, "zero": false},
                    "axis": {"orient": "bottom", "title": "gal long (deg)", "values": [80,70,60,50,40,30,20,10,0,-10,-20,-30,-40,-50,-60,-70,-80], "labelExpr": "datum.value % 50 === 0 ? datum.label : ''", "labelFont": "Liberation Mono", "labelFontSize": 14, "labelPadding": 9, "labelOverlap": false, "titleFont": "Liberation Mono", "titleFontSize": 14, "titlePadding": 4, "titleColor": "black"}},
              "y": {"field": "v", "type": "quantitative", "scale": {"domain": [0, 3], "nice": false, "zero": false},
                    "axis": {"orient": "left", "title": "K band", "values": [0,0.2,0.4,0.6,0.8,1,1.2,1.4,1.6,1.8,2,2.2,2.4,2.6,2.8,3], "labelExpr": "abs(datum.value - round(datum.value)) < 0.001 ? format(datum.value, 'd') : ''", "labelFont": "Liberation Mono", "labelFontSize": 14, "labelPadding": 5, "labelOverlap": false, "titleFont": "Liberation Mono", "titleFontSize": 14, "titlePadding": 10, "titleColor": "black"}},
              "text": {"field": "t"}
            }
          },
          {
            "data": {"name": "lsmall"},
            "mark": {"type": "text", "font": "Liberation Serif", "fontSize": 16, "color": "black", "align": "center", "baseline": "middle"},
            "encoding": {
              "x": {"field": "l", "type": "quantitative", "scale": {"domain": [89.5, -89.5], "nice": false, "zero": false},
                    "axis": {"orient": "bottom", "title": "gal long (deg)", "values": [80,70,60,50,40,30,20,10,0,-10,-20,-30,-40,-50,-60,-70,-80], "labelExpr": "datum.value % 50 === 0 ? datum.label : ''", "labelFont": "Liberation Mono", "labelFontSize": 14, "labelPadding": 9, "labelOverlap": false, "titleFont": "Liberation Mono", "titleFontSize": 14, "titlePadding": 4, "titleColor": "black"}},
              "y": {"field": "v", "type": "quantitative", "scale": {"domain": [0, 3], "nice": false, "zero": false},
                    "axis": {"orient": "left", "title": "K band", "values": [0,0.2,0.4,0.6,0.8,1,1.2,1.4,1.6,1.8,2,2.2,2.4,2.6,2.8,3], "labelExpr": "abs(datum.value - round(datum.value)) < 0.001 ? format(datum.value, 'd') : ''", "labelFont": "Liberation Mono", "labelFontSize": 14, "labelPadding": 5, "labelOverlap": false, "titleFont": "Liberation Mono", "titleFontSize": 14, "titlePadding": 10, "titleColor": "black"}},
              "text": {"field": "t"}
            }
          }
        ]
      },
      {
        "data": {"name": "fir"},
        "mark": {"type": "point", "shape": "triangle-up", "size": 10, "filled": true, "color": "black", "opacity": 1},
        "encoding": {
          "x": {"field": "l", "type": "quantitative", "scale": {"domain": [89.5, -89.5], "nice": false, "zero": false},
                "axis": {"orient": "top", "title": null, "labels": false, "values": [80,70,60,50,40,30,20,10,0,-10,-20,-30,-40,-50,-60,-70,-80]}},
          "y": {"field": "v", "type": "quantitative", "scale": {"domain": [3, 6], "nice": false, "zero": false},
                "axis": {"orient": "right", "title": "240μm", "titleAngle": 270, "values": [3,3.2,3.4,3.6,3.8,4,4.2,4.4,4.6,4.8,5,5.2,5.4,5.6,5.8,6], "labelExpr": "abs(datum.value - round(datum.value)) < 0.001 ? format(datum.value, 'd') : ''", "labelFont": "Liberation Mono", "labelFontSize": 14, "labelPadding": 6, "labelOverlap": false, "titleFont": "Liberation Mono", "titleFontSize": 14, "titlePadding": 10, "titleColor": "black"}}
        }
      }
    ],
    "resolve": {"scale": {"y": "independent"}, "axis": {"x": "independent", "y": "independent"}}
  },
  {
    "width": 524,
    "height": 393,
    "title": {"text": "Star count density (all sources from 12th to 6th magnitude)", "font": "DejaVu Sans", "fontSize": 18.3, "fontWeight": "normal", "color": "black", "offset": 2, "anchor": "middle"},
    "layer": [
      {
        "layer": [
          {
            "data": {"name": "stars"},
            "mark": {"type": "line", "color": "black", "strokeWidth": 1.8, "clip": true},
            "encoding": {
              "x": {"field": "l", "type": "quantitative", "scale": {"domain": [72.5, -68.8], "nice": false, "zero": false},
                    "axis": {"orient": "bottom", "title": "Galactic longitude", "values": [70,65,60,55,50,45,40,35,30,25,20,15,10,5,0,-5,-10,-15,-20,-25,-30,-35,-40,-45,-50,-55,-60,-65], "labelExpr": "datum.value % 20 === 0 ? datum.label : ''", "labelFont": "DejaVu Sans", "labelFontSize": 15, "labelPadding": 4, "labelOverlap": false, "titleFont": "DejaVu Sans", "titleFontSize": 14, "titlePadding": 3, "titleColor": "black"}},
              "y": {"field": "n", "type": "quantitative", "scale": {"type": "log", "domain": [1200, 335000], "nice": false, "zero": false},
                    "axis": {"orient": "left", "title": "Sources/degree²", "values": [2000,3000,4000,5000,6000,7000,8000,9000,10000,20000,30000,40000,50000,60000,70000,80000,90000,100000,200000,300000], "labelExpr": "datum.value === 10000 ? '10⁴' : (datum.value === 100000 ? '10⁵' : '')", "labelFont": "DejaVu Sans", "labelFontSize": 15, "labelPadding": 7, "labelOverlap": false, "titleFont": "DejaVu Sans", "titleFontSize": 14, "titlePadding": 6, "titleColor": "black"}},
              "detail": {"field": "b", "type": "nominal"}
            }
          },
          {
            "data": {"name": "model"},
            "mark": {"type": "line", "color": "black", "strokeWidth": 1.3, "interpolate": "monotone", "clip": true},
            "encoding": {
              "x": {"field": "l", "type": "quantitative", "scale": {"domain": [72.5, -68.8], "nice": false, "zero": false},
                    "axis": {"orient": "bottom", "title": "Galactic longitude", "values": [70,65,60,55,50,45,40,35,30,25,20,15,10,5,0,-5,-10,-15,-20,-25,-30,-35,-40,-45,-50,-55,-60,-65], "labelExpr": "datum.value % 20 === 0 ? datum.label : ''", "labelFont": "DejaVu Sans", "labelFontSize": 15, "labelPadding": 4, "labelOverlap": false, "titleFont": "DejaVu Sans", "titleFontSize": 14, "titlePadding": 3, "titleColor": "black"}},
              "y": {"field": "n", "type": "quantitative", "scale": {"type": "log", "domain": [1200, 335000], "nice": false, "zero": false},
                    "axis": {"orient": "left", "title": "Sources/degree²", "values": [2000,3000,4000,5000,6000,7000,8000,9000,10000,20000,30000,40000,50000,60000,70000,80000,90000,100000,200000,300000], "labelExpr": "datum.value === 10000 ? '10⁴' : (datum.value === 100000 ? '10⁵' : '')", "labelFont": "DejaVu Sans", "labelFontSize": 15, "labelPadding": 7, "labelOverlap": false, "titleFont": "DejaVu Sans", "titleFontSize": 14, "titlePadding": 6, "titleColor": "black"}}
            }
          },
          {
            "data": {"name": "rvlines"},
            "mark": {"type": "rule", "color": "black"},
            "encoding": {
              "x": {"field": "l", "type": "quantitative", "scale": {"domain": [72.5, -68.8], "nice": false, "zero": false},
                    "axis": {"orient": "bottom", "title": "Galactic longitude", "values": [70,65,60,55,50,45,40,35,30,25,20,15,10,5,0,-5,-10,-15,-20,-25,-30,-35,-40,-45,-50,-55,-60,-65], "labelExpr": "datum.value % 20 === 0 ? datum.label : ''", "labelFont": "DejaVu Sans", "labelFontSize": 15, "labelPadding": 4, "labelOverlap": false, "titleFont": "DejaVu Sans", "titleFontSize": 14, "titlePadding": 3, "titleColor": "black"}},
              "y": {"datum": 203000, "type": "quantitative", "scale": {"type": "log", "domain": [1200, 335000], "nice": false, "zero": false},
                    "axis": {"orient": "left", "title": "Sources/degree²", "values": [2000,3000,4000,5000,6000,7000,8000,9000,10000,20000,30000,40000,50000,60000,70000,80000,90000,100000,200000,300000], "labelExpr": "datum.value === 10000 ? '10⁴' : (datum.value === 100000 ? '10⁵' : '')", "labelFont": "DejaVu Sans", "labelFontSize": 15, "labelPadding": 7, "labelOverlap": false, "titleFont": "DejaVu Sans", "titleFontSize": 14, "titlePadding": 6, "titleColor": "black"}},
              "y2": {"datum": 1200},
              "strokeDash": {"field": "kind", "type": "nominal", "scale": {"domain": ["solid", "dash", "dashdot", "dotted"], "range": [[1, 0], [6, 4], [7, 3, 1, 3], [2, 3]]}, "legend": null},
              "strokeWidth": {"field": "arm", "type": "nominal", "scale": {"domain": ["Sagittarius", "Scutum", "3-kpc", "Norma", "Centaurus"], "range": [1.8, 1.2, 1.2, 1.2, 1.8]}, "legend": null}
            }
          },
          {
            "data": {"name": "armlabels"},
            "transform": [{"filter": "datum.major"}],
            "mark": {"type": "text", "font": "Liberation Sans", "fontSize": 13, "fontWeight": "bold", "color": "black", "align": "center", "baseline": "middle"},
            "encoding": {
              "x": {"field": "l", "type": "quantitative", "scale": {"domain": [72.5, -68.8], "nice": false, "zero": false},
                    "axis": {"orient": "bottom", "title": "Galactic longitude", "values": [70,65,60,55,50,45,40,35,30,25,20,15,10,5,0,-5,-10,-15,-20,-25,-30,-35,-40,-45,-50,-55,-60,-65], "labelExpr": "datum.value % 20 === 0 ? datum.label : ''", "labelFont": "DejaVu Sans", "labelFontSize": 15, "labelPadding": 4, "labelOverlap": false, "titleFont": "DejaVu Sans", "titleFontSize": 14, "titlePadding": 3, "titleColor": "black"}},
              "y": {"datum": 224000, "type": "quantitative", "scale": {"type": "log", "domain": [1200, 335000], "nice": false, "zero": false},
                    "axis": {"orient": "left", "title": "Sources/degree²", "values": [2000,3000,4000,5000,6000,7000,8000,9000,10000,20000,30000,40000,50000,60000,70000,80000,90000,100000,200000,300000], "labelExpr": "datum.value === 10000 ? '10⁴' : (datum.value === 100000 ? '10⁵' : '')", "labelFont": "DejaVu Sans", "labelFontSize": 15, "labelPadding": 7, "labelOverlap": false, "titleFont": "DejaVu Sans", "titleFontSize": 14, "titlePadding": 6, "titleColor": "black"}},
              "text": {"field": "t"}
            }
          },
          {
            "data": {"name": "armlabels"},
            "transform": [{"filter": "!datum.major"}],
            "mark": {"type": "text", "font": "Liberation Sans", "fontSize": 13, "fontWeight": "normal", "color": "black", "align": "center", "baseline": "middle"},
            "encoding": {
              "x": {"field": "l", "type": "quantitative", "scale": {"domain": [72.5, -68.8], "nice": false, "zero": false},
                    "axis": {"orient": "bottom", "title": "Galactic longitude", "values": [70,65,60,55,50,45,40,35,30,25,20,15,10,5,0,-5,-10,-15,-20,-25,-30,-35,-40,-45,-50,-55,-60,-65], "labelExpr": "datum.value % 20 === 0 ? datum.label : ''", "labelFont": "DejaVu Sans", "labelFontSize": 15, "labelPadding": 4, "labelOverlap": false, "titleFont": "DejaVu Sans", "titleFontSize": 14, "titlePadding": 3, "titleColor": "black"}},
              "y": {"datum": 224000, "type": "quantitative", "scale": {"type": "log", "domain": [1200, 335000], "nice": false, "zero": false},
                    "axis": {"orient": "left", "title": "Sources/degree²", "values": [2000,3000,4000,5000,6000,7000,8000,9000,10000,20000,30000,40000,50000,60000,70000,80000,90000,100000,200000,300000], "labelExpr": "datum.value === 10000 ? '10⁴' : (datum.value === 100000 ? '10⁵' : '')", "labelFont": "DejaVu Sans", "labelFontSize": 15, "labelPadding": 7, "labelOverlap": false, "titleFont": "DejaVu Sans", "titleFontSize": 14, "titlePadding": 6, "titleColor": "black"}},
              "text": {"field": "t"}
            }
          },
          {
            "data": {"name": "bandlabels"},
            "mark": {"type": "text", "font": "DejaVu Sans", "fontSize": 15, "fontWeight": "bold", "color": "black", "align": "left", "baseline": "middle"},
            "encoding": {
              "x": {"field": "l", "type": "quantitative", "scale": {"domain": [72.5, -68.8], "nice": false, "zero": false},
                    "axis": {"orient": "bottom", "title": "Galactic longitude", "values": [70,65,60,55,50,45,40,35,30,25,20,15,10,5,0,-5,-10,-15,-20,-25,-30,-35,-40,-45,-50,-55,-60,-65], "labelExpr": "datum.value % 20 === 0 ? datum.label : ''", "labelFont": "DejaVu Sans", "labelFontSize": 15, "labelPadding": 4, "labelOverlap": false, "titleFont": "DejaVu Sans", "titleFontSize": 14, "titlePadding": 3, "titleColor": "black"}},
              "y": {"field": "n", "type": "quantitative", "scale": {"type": "log", "domain": [1200, 335000], "nice": false, "zero": false},
                    "axis": {"orient": "left", "title": "Sources/degree²", "values": [2000,3000,4000,5000,6000,7000,8000,9000,10000,20000,30000,40000,50000,60000,70000,80000,90000,100000,200000,300000], "labelExpr": "datum.value === 10000 ? '10⁴' : (datum.value === 100000 ? '10⁵' : '')", "labelFont": "DejaVu Sans", "labelFontSize": 15, "labelPadding": 7, "labelOverlap": false, "titleFont": "DejaVu Sans", "titleFontSize": 14, "titlePadding": 6, "titleColor": "black"}},
              "text": {"field": "t"}
            }
          }
        ]
      },
      {
        "data": {"name": "model"},
        "mark": {"type": "line", "opacity": 0},
        "encoding": {
          "x": {"field": "l", "type": "quantitative", "scale": {"domain": [72.5, -68.8], "nice": false, "zero": false},
                "axis": {"orient": "top", "title": null, "labels": false, "values": [70,65,60,55,50,45,40,35,30,25,20,15,10,5,0,-5,-10,-15,-20,-25,-30,-35,-40,-45,-50,-55,-60,-65]}},
          "y": {"field": "n", "type": "quantitative", "scale": {"type": "log", "domain": [1200, 335000], "nice": false, "zero": false},
                "axis": {"orient": "right", "title": null, "labels": false, "values": [2000,3000,4000,5000,6000,7000,8000,9000,10000,20000,30000,40000,50000,60000,70000,80000,90000,100000,200000,300000]}}
        }
      }
    ],
    "resolve": {"axis": {"x": "independent", "y": "independent"}}
  }
]
}
